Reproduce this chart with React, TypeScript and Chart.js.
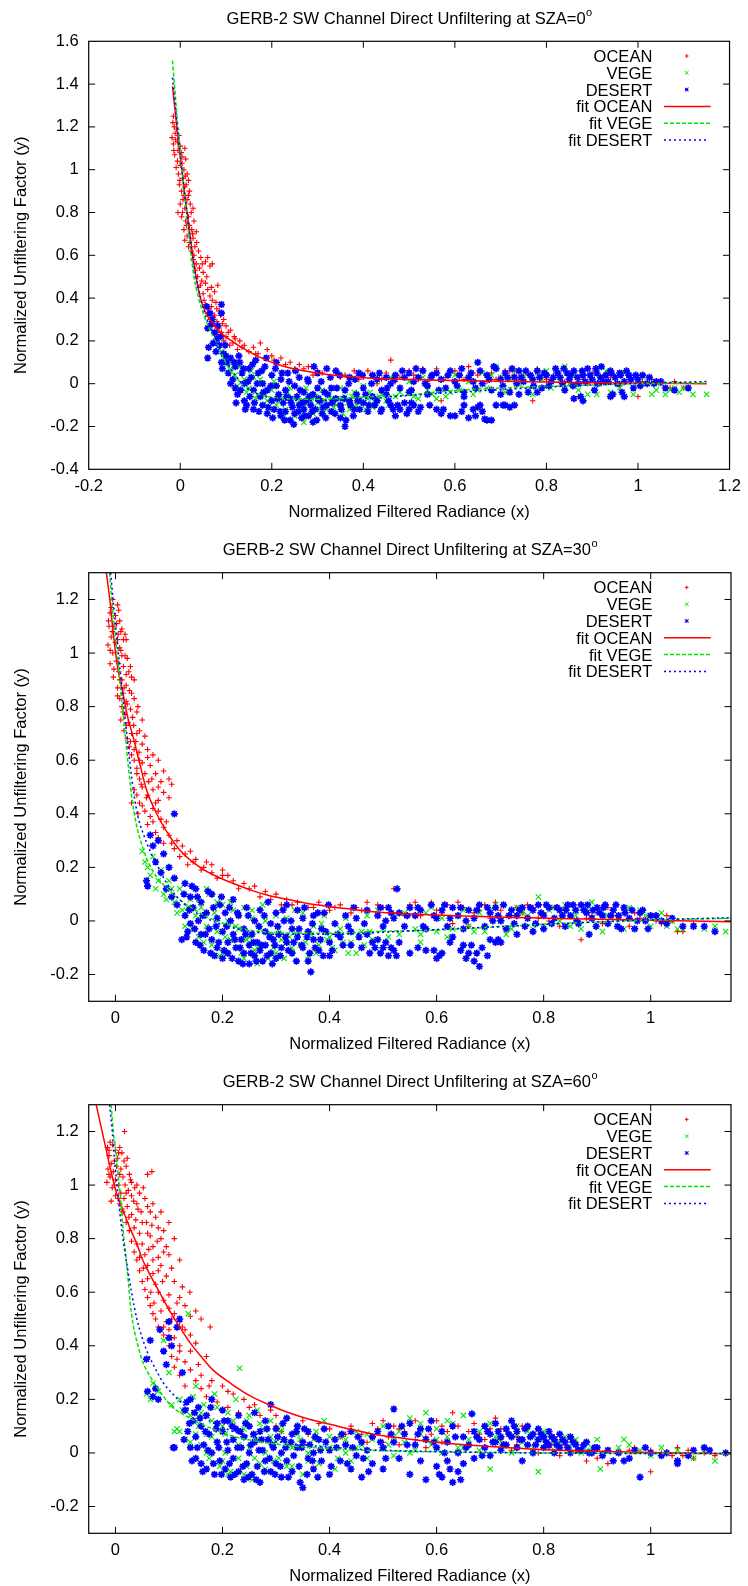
import React, { useEffect, useRef } from 'react';
import { Chart, registerables } from 'chart.js';

Chart.register(...registerables);

type P = [number, number];

// ---------- text ----------
const titles = [
  'GERB-2 SW Channel Direct Unfiltering at SZA=0',
  'GERB-2 SW Channel Direct Unfiltering at SZA=30',
  'GERB-2 SW Channel Direct Unfiltering at SZA=60',
];
const titleSup = 'o';
const xTitle = 'Normalized Filtered Radiance (x)';
const yTitle = 'Normalized Unfiltering Factor (y)';
const legendLabels = ['OCEAN', 'VEGE', 'DESERT', 'fit OCEAN', 'fit VEGE', 'fit DESERT'];

// ---------- ticks ----------
const xTicks0 = [-0.2, 0, 0.2, 0.4, 0.6, 0.8, 1, 1.2];
const xTickLabels0 = ['-0.2', '0', '0.2', '0.4', '0.6', '0.8', '1', '1.2'];
const yTicks0 = [-0.4, -0.2, 0, 0.2, 0.4, 0.6, 0.8, 1, 1.2, 1.4, 1.6];
const yTickLabels0 = ['-0.4', '-0.2', '0', '0.2', '0.4', '0.6', '0.8', '1', '1.2', '1.4', '1.6'];
const xTicks12 = [0, 0.2, 0.4, 0.6, 0.8, 1];
const xTickLabels12 = ['0', '0.2', '0.4', '0.6', '0.8', '1'];
const yTicks12 = [-0.2, 0, 0.2, 0.4, 0.6, 0.8, 1, 1.2];
const yTickLabels12 = ['-0.2', '0', '0.2', '0.4', '0.6', '0.8', '1', '1.2'];

// ---------- SZA = 0 ----------
const ocean0: P[] = [
  [-0.015,1.25],[-0.013,1.2],[-0.008,1.19],[-0.018,1.15],[-0.01,1.14],[-0.003,1.16],[-0.015,1.12],[0.0,1.11],[-0.005,1.09],[0.01,1.1],
  [-0.012,1.07],[0.004,1.06],[-0.006,1.04],[0.012,1.05],[0.0,1.02],[0.008,1.0],[-0.004,0.98],[0.015,0.98],[0.005,0.96],[0.018,0.95],
  [-0.002,0.93],[0.01,0.92],[0.003,0.9],[0.02,0.9],[0.008,0.88],[0.015,0.86],[0.0,0.84],[0.022,0.84],[0.01,0.82],[0.028,0.82],
  [-0.005,0.8],[0.005,0.8],[0.018,0.78],[0.012,0.76],[0.03,0.76],[0.02,0.74],[0.008,0.72],[0.025,0.72],[0.035,0.71],[0.015,0.69],
  [0.028,0.68],[0.02,0.66],[0.032,0.64],[0.024,0.62],[0.04,0.62],[0.03,0.6],[0.045,0.59],[0.06,0.59],[0.055,0.57],[0.07,0.56],
  [0.035,0.56],[0.042,0.54],[0.05,0.52],[0.038,0.5],[0.047,0.48],[0.055,0.47],[0.04,0.45],[0.06,0.44],[0.05,0.42],[0.065,0.41],
  [0.075,0.43],[0.082,0.46],[0.07,0.39],[0.055,0.37],[0.068,0.36],[0.08,0.35],[0.06,0.33],[0.075,0.32],[0.088,0.32],[0.065,0.3],
  [0.08,0.29],[0.095,0.3],[0.07,0.27],[0.085,0.26],[0.1,0.27],[0.09,0.24],[0.11,0.25],[0.078,0.23],[0.1,0.22],[0.12,0.21],
  [0.115,0.19],[0.13,0.2],[0.14,0.18],[0.125,0.16],[0.16,0.17],[0.175,0.19],[0.19,0.16],[0.165,0.14],[0.2,0.13],[0.22,0.12],
  [0.21,0.1],[0.24,0.1],[0.26,0.09],[0.28,0.08],[0.25,0.07],[0.3,0.06],[0.32,0.07],[0.29,0.04],[0.34,0.05],[0.36,0.04],
  [0.38,0.06],[0.4,0.03],[0.42,0.04],[0.39,0.02],[0.44,0.02],[0.46,0.11],[0.45,0.05],[0.48,0.03],[0.5,0.06],[0.52,0.02],
  [0.53,0.07],[0.55,0.04],[0.57,-0.08],[0.58,0.03],[0.6,0.06],[0.62,0.02],[0.63,0.08],[0.65,0.04],[0.67,0.01],[0.68,0.05],
  [0.7,0.03],[0.72,0.06],[0.74,0.02],[0.77,-0.08],[0.76,0.04],[0.78,0.07],[0.8,0.02],[0.82,0.05],[0.84,0.01],[0.86,0.04],
  [0.87,-0.06],[0.88,0.02],[0.9,0.05],[0.92,0.0],[0.94,0.03],[0.96,-0.01],[0.98,0.02],[1.0,-0.06],[1.01,0.01],[1.03,0.02],
  [1.05,0.0],[1.07,-0.02],[1.08,0.01],[1.1,-0.02],
  [-0.016,1.22],[-0.011,1.17],[-0.006,1.13],[-0.014,1.09],[0.002,1.08],[-0.009,1.01],[0.004,1.03],[0.011,0.97],[-0.001,0.95],[0.013,0.93],
  [0.006,0.86],[0.018,0.88],[0.024,0.8],[0.003,0.78],[0.014,0.74],[0.027,0.7],[0.01,0.67],[0.036,0.66],[0.018,0.64],[0.028,0.58],
  [0.048,0.56],[0.065,0.55],[0.033,0.53],[0.058,0.5],[0.044,0.46],[0.068,0.45],[0.052,0.39],[0.078,0.38],[0.062,0.35],[0.085,0.34],
  [0.072,0.31],[0.092,0.28],[0.082,0.24],[0.105,0.24],[0.095,0.2],[0.118,0.22],[0.108,0.18],[0.135,0.17],[0.15,0.15],[0.17,0.14],
  [0.185,0.12],[0.205,0.11],[0.23,0.09],[0.27,0.07],[0.31,0.05],[0.35,0.03],[0.37,0.02],[0.41,0.06],[0.43,0.0],[0.47,0.01],
  [0.51,0.04],[0.54,0.01],[0.56,0.07],[0.61,0.03],[0.64,0.05],[0.69,0.02],[0.71,0.06],[0.73,0.04],[0.79,0.04],[0.83,0.03],
  [0.89,0.0],[0.93,0.04],[0.97,0.01],
];
const vege0: P[] = [
  [0.09,0.15],[0.1,0.1],[0.11,0.07],[0.12,0.04],[0.13,0.08],[0.14,0.02],[0.15,-0.02],[0.16,0.03],[0.17,-0.05],[0.18,0.0],
  [0.19,-0.08],[0.2,-0.03],[0.21,-0.1],[0.22,-0.06],[0.23,-0.12],[0.24,-0.02],[0.25,-0.15],[0.26,-0.08],[0.27,-0.18],[0.27,-0.11],
  [0.28,-0.05],[0.29,-0.14],[0.3,-0.09],[0.31,-0.03],[0.32,-0.12],[0.33,-0.07],[0.34,-0.1],[0.35,-0.02],[0.36,-0.06],[0.37,-0.12],
  [0.38,-0.04],[0.39,-0.09],[0.4,-0.01],[0.41,-0.07],[0.42,-0.11],[0.43,0.02],[0.44,-0.05],[0.45,-0.08],[0.46,0.03],[0.48,-0.04],
  [0.5,0.01],[0.51,-0.06],[0.53,0.03],[0.55,-0.05],[0.57,0.02],[0.58,-0.06],[0.6,0.04],[0.61,-0.03],[0.63,0.01],[0.64,-0.05],
  [0.66,0.05],[0.67,-0.02],[0.69,0.08],[0.7,0.03],[0.71,-0.04],[0.73,0.06],[0.74,0.0],[0.76,-0.03],[0.78,0.05],[0.79,0.02],
  [0.81,-0.02],[0.82,0.06],[0.84,0.08],[0.85,0.0],[0.87,-0.03],[0.88,0.05],[0.9,0.02],[0.91,-0.05],[0.93,0.06],[0.95,0.03],
  [0.96,-0.02],[0.98,0.04],[1.0,0.01],[1.02,0.03],[1.03,-0.05],[1.05,0.0],[1.07,-0.03],[1.09,-0.04],[1.1,-0.02],[1.12,-0.05],
  [1.15,-0.05],
  [0.095,0.12],[0.105,0.05],[0.115,0.1],[0.125,-0.01],[0.135,0.05],[0.145,-0.04],[0.155,0.06],[0.165,-0.07],[0.175,0.02],[0.185,-0.05],
  [0.195,-0.12],[0.205,0.01],[0.215,-0.08],[0.225,-0.14],[0.235,-0.04],[0.245,-0.1],[0.255,-0.06],[0.265,-0.13],[0.275,-0.02],[0.285,-0.09],
  [0.295,-0.06],[0.305,-0.12],[0.315,-0.08],[0.325,-0.05],[0.335,-0.11],[0.345,-0.07],[0.355,-0.14],[0.365,-0.09],[0.375,-0.06],[0.385,-0.1],
  [0.395,-0.07],[0.405,-0.12],[0.415,-0.04],[0.425,-0.08],[0.435,-0.06],[0.455,-0.1],[0.47,-0.06],[0.49,-0.09],[0.52,-0.07],[0.54,-0.03],
  [0.56,-0.07],[0.59,-0.04],[0.62,-0.06],[0.65,-0.03],[0.68,0.04],[0.72,0.02],[0.75,0.04],[0.77,-0.05],[0.8,0.06],[0.83,0.02],
  [0.86,0.04],[0.89,-0.05],[0.92,0.03],[0.94,-0.04],[0.97,0.05],[0.99,-0.05],[1.01,0.0],[1.04,-0.03],[1.06,-0.05],[1.08,-0.02],
];
const desert0: P[] = [
  [0.058,0.36],[0.065,0.33],[0.07,0.3],[0.06,0.26],[0.075,0.24],[0.08,0.21],[0.062,0.17],[0.085,0.18],[0.06,0.12],[0.095,0.14],
  [0.09,0.1],[0.1,0.13],[0.09,0.37],[0.09,0.33],
  [0.068,0.28],[0.072,0.19],[0.078,0.15],[0.082,0.27],[0.088,0.22],[0.092,0.07],[0.098,0.18],[0.102,0.1],
  [0.11,0.12],[0.12,0.08],[0.115,0.02],[0.12,-0.02],[0.125,-0.05],[0.13,0.1],[0.135,0.05],[0.14,0.0],[0.14,-0.08],[0.145,-0.1],
  [0.15,0.07],[0.155,0.03],[0.16,-0.03],[0.16,-0.12],[0.165,0.11],[0.17,0.05],[0.175,-0.06],[0.18,-0.1],[0.18,0.0],[0.185,0.08],
  [0.19,-0.14],[0.19,-0.03],[0.2,0.04],[0.2,-0.08],[0.205,-0.12],[0.21,-0.01],[0.21,0.1],[0.215,-0.05],[0.22,-0.15],[0.22,0.02],
  [0.225,-0.09],[0.23,-0.03],[0.23,-0.13],[0.235,0.05],[0.24,-0.07],[0.24,-0.17],[0.245,-0.11],[0.25,-0.01],[0.25,-0.14],[0.255,-0.06],
  [0.26,-0.1],[0.26,0.03],[0.265,-0.16],[0.27,-0.04],[0.27,-0.12],[0.275,-0.08],[0.28,0.01],[0.28,-0.15],[0.285,-0.1],[0.29,-0.05],
  [0.29,-0.18],[0.295,-0.12],[0.3,0.05],[0.3,-0.02],[0.305,-0.08],[0.31,-0.14],[0.315,-0.04],[0.32,0.07],[0.32,-0.1],[0.33,-0.02],
  [0.33,-0.13],[0.34,0.06],[0.34,-0.07],[0.35,-0.1],[0.35,-0.16],[0.36,-0.03],[0.36,-0.2],[0.37,0.03],[0.37,-0.08],[0.38,-0.12],
  [0.385,-0.05],[0.39,0.05],[0.4,-0.09],[0.4,-0.02],[0.41,-0.13],[0.42,0.04],[0.42,-0.06],
  [0.105,0.05],[0.11,0.0],[0.118,0.1],[0.122,-0.09],[0.128,0.13],[0.132,-0.03],[0.138,0.07],[0.142,-0.12],[0.148,0.01],[0.152,-0.06],
  [0.158,0.09],[0.162,-0.09],[0.168,0.0],[0.172,-0.13],[0.178,0.06],[0.182,-0.04],[0.188,0.12],[0.192,-0.11],[0.198,-0.01],[0.202,-0.16],
  [0.208,0.07],[0.212,-0.07],[0.218,-0.13],[0.222,0.05],[0.228,-0.17],[0.232,-0.06],[0.238,0.01],[0.242,-0.09],[0.248,-0.19],[0.252,0.06],
  [0.258,-0.13],[0.262,-0.03],[0.268,-0.09],[0.272,-0.15],[0.278,0.02],[0.282,-0.06],[0.288,-0.13],[0.292,0.08],[0.298,-0.17],[0.302,-0.07],
  [0.308,0.01],[0.312,-0.11],[0.318,-0.16],[0.322,-0.05],[0.328,0.03],[0.332,-0.09],[0.338,-0.14],[0.342,-0.02],[0.348,0.04],[0.352,-0.12],
  [0.358,-0.07],[0.362,-0.17],[0.368,0.0],[0.372,-0.1],[0.378,-0.15],[0.382,0.02],[0.388,-0.08],[0.392,-0.12],[0.398,0.04],[0.405,-0.05],
  [0.412,-0.1],[0.418,0.0],
  [0.43,0.02],[0.44,-0.03],[0.45,0.03],[0.46,0.0],[0.47,0.04],[0.48,-0.02],[0.49,0.03],[0.5,0.05],[0.51,0.01],[0.52,0.03],
  [0.53,0.06],[0.54,-0.01],[0.55,0.04],[0.56,0.05],[0.57,0.02],[0.58,-0.02],[0.59,0.06],[0.6,0.01],[0.61,0.04],[0.62,-0.04],
  [0.63,0.03],[0.64,0.01],[0.65,0.1],[0.655,0.06],[0.66,0.0],[0.67,0.04],[0.68,-0.03],[0.69,0.07],[0.7,0.02],[0.71,0.05],
  [0.72,-0.04],[0.73,0.03],[0.74,0.06],[0.75,0.01],[0.76,-0.04],[0.765,0.04],[0.77,0.02],[0.78,0.06],[0.79,-0.02],[0.8,0.04],
  [0.81,0.01],[0.82,0.07],[0.83,0.03],[0.84,-0.03],[0.845,0.05],[0.85,0.02],[0.86,0.06],[0.87,0.0],[0.875,-0.06],[0.88,0.04],
  [0.89,0.07],[0.9,0.02],[0.905,-0.03],[0.91,0.05],[0.92,0.08],[0.925,0.01],[0.93,0.04],[0.94,0.06],[0.945,-0.05],[0.95,0.03],
  [0.96,0.05],[0.965,-0.04],[0.97,0.01],[0.98,0.04],[0.99,-0.02],[1.0,0.02],[1.01,0.04],[1.02,0.0],[1.04,0.01],[1.06,-0.02],
  [1.08,-0.03],[1.11,-0.02],
  [0.435,0.05],[0.452,-0.02],[0.468,0.02],[0.485,0.06],[0.505,-0.03],[0.515,0.07],[0.535,0.0],[0.548,0.03],[0.565,-0.03],[0.585,0.04],
  [0.605,-0.01],[0.615,0.07],[0.635,0.05],[0.645,-0.02],[0.675,0.02],[0.685,0.08],[0.705,-0.01],[0.715,0.03],[0.725,0.07],[0.735,0.0],
  [0.745,0.03],[0.755,0.06],[0.772,-0.01],[0.785,0.03],[0.795,0.05],[0.805,-0.01],[0.815,0.03],[0.825,0.05],[0.835,0.0],[0.838,0.07],
  [0.852,0.04],[0.858,-0.01],[0.868,0.03],[0.878,0.06],[0.885,0.01],[0.895,0.04],[0.908,0.07],[0.912,0.0],[0.918,0.03],[0.935,0.01],
  [0.942,0.05],[0.955,0.0],[0.962,0.04],[0.975,0.06],[0.985,0.02],[0.995,0.04],[1.005,-0.01],[1.025,0.03],[1.035,0.0],[1.05,0.01],
  [0.43,-0.08],[0.44,-0.12],[0.46,-0.1],[0.47,-0.15],[0.48,-0.12],[0.49,-0.09],[0.5,-0.12],[0.51,-0.1],[0.52,-0.13],[0.56,-0.12],
  [0.57,-0.14],[0.59,-0.15],[0.6,-0.15],[0.62,-0.1],[0.63,-0.16],[0.64,-0.12],[0.65,-0.11],[0.66,-0.13],[0.67,-0.17],[0.68,-0.17],
  [0.69,-0.1],[0.71,-0.1],[0.73,-0.1],
  [0.425,-0.1],[0.438,-0.13],[0.455,-0.08],[0.465,-0.12],[0.475,-0.1],[0.495,-0.14],[0.505,-0.09],[0.525,-0.11],[0.545,-0.1],[0.575,-0.12],
  [0.615,-0.13],[0.645,-0.15],[0.655,-0.1],[0.665,-0.165],[0.705,-0.1],[0.72,-0.11],
  [0.45,-0.05],[0.5,-0.04],[0.54,-0.05],[0.62,-0.06],[0.7,-0.05],[0.74,-0.05],[0.78,-0.04],[0.86,-0.07],[0.88,-0.08],[0.94,-0.06],
  [0.97,-0.06],
];
const fitOcean0: P[] = [
  [-0.017,1.39],[-0.01,1.25],[-0.005,1.15],[0.003,1.01],[0.01,0.88],[0.021,0.7],[0.03,0.56],[0.037,0.47],[0.043,0.41],[0.05,0.36],
  [0.06,0.315],[0.075,0.27],[0.09,0.235],[0.115,0.196],[0.15,0.15],[0.188,0.11],[0.22,0.085],[0.26,0.064],[0.3,0.05],[0.333,0.04],
  [0.42,0.026],[0.5,0.02],[0.6,0.015],[0.7,0.011],[0.8,0.008],[0.9,0.005],[1.0,0.003],[1.15,0.0],
];
const fitVege0: P[] = [
  [-0.017,1.51],[-0.012,1.38],[-0.006,1.22],[0.0,1.08],[0.006,0.95],[0.012,0.83],[0.018,0.71],[0.025,0.58],[0.03,0.5],[0.04,0.4],
  [0.05,0.33],[0.065,0.25],[0.08,0.19],[0.095,0.12],[0.108,0.064],[0.13,0.01],[0.152,-0.03],[0.18,-0.055],[0.21,-0.067],[0.26,-0.072],
  [0.3,-0.073],[0.35,-0.07],[0.42,-0.06],[0.49,-0.055],[0.57,-0.037],[0.68,-0.022],[0.785,-0.014],[0.9,-0.006],[1.0,0.0],[1.15,0.004],
];
const fitDesert0: P[] = [
  [-0.017,1.43],[-0.01,1.28],[-0.004,1.15],[0.002,1.03],[0.008,0.92],[0.015,0.79],[0.022,0.67],[0.03,0.55],[0.038,0.46],[0.048,0.37],
  [0.06,0.29],[0.075,0.22],[0.09,0.15],[0.105,0.09],[0.12,0.04],[0.14,-0.01],[0.16,-0.04],[0.19,-0.062],[0.23,-0.075],[0.28,-0.08],
  [0.33,-0.078],[0.4,-0.07],[0.5,-0.055],[0.6,-0.04],[0.7,-0.028],[0.8,-0.016],[0.9,-0.006],[1.0,0.002],[1.15,0.01],
];

// ---------- SZA = 30 ----------
const ocean30: P[] = [
  [-0.005,1.2],[0.004,1.18],[-0.01,1.15],[0.0,1.14],[0.008,1.12],[-0.012,1.1],[-0.003,1.1],[0.012,1.09],[0.005,1.07],[-0.008,1.06],
  [0.015,1.05],[0.0,1.04],[-0.014,1.03],[0.02,1.05],[0.008,1.02],[-0.005,1.0],[0.012,0.99],[0.002,0.97],[0.022,0.98],[-0.01,0.96],
  [0.015,0.95],[0.006,0.93],[0.025,0.93],[-0.004,0.91],[0.012,0.9],[0.03,0.91],[0.02,0.88],[0.004,0.87],[0.014,0.85],[0.026,0.86],
  [0.008,0.83],[0.02,0.82],[0.035,0.83],[0.012,0.8],[0.028,0.79],[0.018,0.77],[0.04,0.78],[0.01,0.75],[0.024,0.74],[0.034,0.73],
  [0.016,0.71],[0.03,0.7],[0.045,0.71],[0.022,0.68],[0.038,0.67],[0.026,0.65],[0.05,0.66],[0.03,0.62],[0.044,0.63],[0.06,0.64],
  [0.07,0.62],[0.035,0.6],[0.05,0.59],[0.065,0.58],[0.08,0.6],[0.04,0.57],[0.055,0.55],[0.075,0.55],[0.09,0.56],[0.045,0.53],
  [0.062,0.52],[0.085,0.52],[0.1,0.53],[0.105,0.51],[0.05,0.5],[0.07,0.49],[0.09,0.48],[0.04,0.47],[0.058,0.46],[0.08,0.45],
  [0.03,0.44],[0.05,0.43],[0.07,0.42],[0.1,0.46],[0.042,0.4],[0.065,0.39],[0.085,0.38],[0.06,0.36],[0.09,0.35],[0.075,0.33],
  [0.1,0.32],[0.115,0.3],[0.09,0.29],[0.11,0.27],[0.125,0.28],[0.14,0.26],[0.12,0.24],[0.15,0.23],[0.135,0.21],[0.17,0.22],
  [0.16,0.19],[0.18,0.18],[0.2,0.19],[0.19,0.16],[0.21,0.17],[0.22,0.15],[0.24,0.14],[0.23,0.12],[0.26,0.13],[0.28,0.11],
  [0.27,0.09],[0.3,0.1],[0.32,0.08],[0.31,0.06],[0.34,0.07],[0.36,0.05],[0.38,0.07],[0.4,0.04],[0.42,0.06],[0.44,0.03],
  [0.46,0.04],[0.47,0.07],
  [0.5,0.05],[0.52,0.12],[0.53,0.03],[0.55,0.06],[0.57,0.02],[0.59,0.07],[0.6,0.04],[0.62,0.06],[0.63,-0.01],[0.65,0.05],
  [0.67,0.03],[0.69,0.06],[0.7,0.01],[0.72,0.04],[0.74,0.02],[0.75,0.05],[0.77,0.06],[0.79,0.01],[0.8,0.03],[0.82,0.05],
  [0.83,-0.02],[0.85,0.02],[0.86,0.04],[0.87,-0.07],[0.88,0.01],[0.9,0.03],[0.91,-0.01],[0.93,0.02],[0.95,0.04],[0.96,-0.02],
  [0.98,0.01],[1.0,0.02],[1.02,-0.01],[1.04,0.0],[1.05,-0.04],[1.06,-0.04],[1.08,-0.01],[0.58,-0.03],[0.66,-0.02],[0.73,-0.03],
  [-0.008,1.17],[0.006,1.16],[-0.013,1.12],[0.002,1.11],[0.01,1.08],[-0.006,1.08],[0.018,1.07],[0.004,1.05],[-0.01,1.01],[0.01,1.01],
  [0.018,0.99],[0.006,0.96],[0.028,0.95],[-0.003,0.94],[0.02,0.92],[0.008,0.9],[0.035,0.9],[0.016,0.87],[0.03,0.85],[0.004,0.84],
  [0.022,0.81],[0.042,0.8],[0.014,0.78],[0.032,0.76],[0.05,0.75],[0.02,0.73],[0.04,0.7],[0.028,0.67],[0.055,0.69],[0.035,0.64],
  [0.045,0.6],[0.06,0.61],[0.04,0.55],[0.068,0.53],[0.048,0.51],[0.08,0.5],[0.035,0.49],[0.06,0.47],[0.045,0.44],[0.075,0.44],
  [0.055,0.41],[0.08,0.41],[0.07,0.37],[0.095,0.37],[0.08,0.31],[0.105,0.29],[0.13,0.25],[0.145,0.22],[0.165,0.2],[0.18,0.21],
  [0.2,0.17],[0.25,0.12],[0.29,0.08],[0.33,0.06],[0.37,0.05],[0.41,0.05],[0.45,0.05],[0.49,0.06],[0.54,0.02],[0.56,0.07],
  [0.61,0.03],[0.64,0.07],[0.68,0.04],[0.71,0.07],[0.76,0.03],[0.78,0.05],[0.81,0.0],[0.84,0.05],[0.89,0.02],[0.92,0.05],
  [0.94,0.01],[0.97,0.03],[1.01,0.0],[1.03,0.02],
];
const vege30: P[] = [
  [0.05,0.26],[0.06,0.2],[0.07,0.24],[0.08,0.15],[0.09,0.1],[0.1,0.15],[0.11,0.07],[0.12,0.12],[0.125,0.04],[0.13,-0.02],
  [0.14,0.08],[0.15,0.02],[0.155,-0.06],[0.16,0.05],[0.17,-0.02],[0.175,0.1],[0.18,-0.09],[0.185,0.03],[0.19,-0.04],[0.2,0.06],
  [0.2,-0.12],[0.21,0.0],[0.215,-0.07],[0.22,0.04],[0.225,-0.1],[0.23,-0.03],[0.24,0.05],[0.24,-0.14],[0.25,-0.06],[0.255,0.01],
  [0.26,-0.11],[0.265,-0.16],[0.27,-0.03],[0.275,0.06],[0.28,-0.09],[0.285,-0.14],[0.29,-0.05],[0.3,0.02],[0.3,-0.12],[0.31,-0.07],
  [0.32,0.01],[0.33,-0.1],[0.34,-0.04],[0.35,0.03],[0.355,-0.08],[0.36,-0.13],[0.37,-0.02],[0.38,-0.09],[0.39,0.02],[0.4,-0.06],
  [0.41,-0.11],[0.42,-0.03],[0.43,0.01],[0.44,-0.08],[0.45,-0.12],[0.46,-0.04],[0.47,0.02],[0.48,-0.07],
  [0.49,0.04],[0.5,-0.03],[0.52,0.02],[0.53,-0.05],[0.55,0.05],[0.56,-0.03],[0.57,-0.08],[0.58,0.03],[0.6,-0.04],[0.61,0.01],
  [0.63,-0.03],[0.65,0.04],[0.66,-0.02],[0.68,0.03],[0.69,-0.04],[0.71,0.06],[0.72,0.0],[0.74,-0.03],[0.75,0.05],[0.77,0.02],
  [0.79,0.09],[0.8,-0.02],[0.81,0.04],[0.83,0.0],[0.84,0.06],[0.86,0.02],[0.87,-0.03],[0.89,0.07],[0.9,0.03],[0.91,-0.04],
  [0.93,0.04],[0.94,0.01],[0.96,0.05],[0.97,-0.03],[0.99,0.02],[1.0,-0.02],[1.02,0.03],[1.04,0.0],[1.06,-0.03],[1.08,-0.02],
  [1.1,-0.03],[1.12,-0.02],[1.14,-0.04],
  [0.055,0.22],[0.065,0.17],[0.075,0.12],[0.085,0.19],[0.095,0.08],[0.105,0.12],[0.115,0.03],[0.135,0.05],[0.145,-0.03],[0.155,0.08],
  [0.165,-0.08],[0.17,0.12],[0.19,0.07],[0.195,-0.13],[0.205,-0.06],[0.215,0.07],[0.225,-0.02],[0.235,-0.12],[0.245,-0.07],[0.255,0.04],
  [0.265,-0.1],[0.27,-0.15],[0.28,0.0],[0.295,-0.1],[0.305,-0.03],[0.315,-0.14],[0.325,-0.06],[0.335,0.04],[0.345,-0.09],[0.365,-0.05],
  [0.375,-0.12],[0.385,-0.01],[0.395,-0.07],[0.405,-0.1],[0.415,-0.05],[0.425,-0.08],[0.435,-0.12],[0.455,-0.06],[0.465,-0.09],[0.475,-0.04],
  [0.51,-0.06],[0.54,0.03],[0.57,-0.05],[0.59,0.05],[0.62,-0.06],[0.64,0.02],[0.67,-0.04],[0.7,0.04],[0.73,-0.05],[0.76,0.03],
  [0.78,-0.03],[0.82,0.05],[0.85,-0.02],[0.88,0.04],[0.92,0.02],[0.95,-0.03],[0.98,0.04],[1.01,0.01],[1.03,-0.02],[1.05,-0.03],
];
const desert30: P[] = [
  [0.058,0.15],[0.06,0.13],[0.065,0.32],[0.07,0.28],[0.075,0.22],[0.08,0.3],[0.085,0.18],[0.09,0.25],[0.095,0.12],[0.1,0.2],
  [0.105,0.09],[0.11,0.4],[0.11,0.16],[0.115,0.06],[0.124,-0.07],
  [0.13,0.14],[0.13,0.02],[0.135,-0.04],[0.14,0.09],[0.14,-0.01],[0.145,0.05],[0.15,-0.08],[0.15,0.12],[0.155,0.0],[0.16,-0.05],
  [0.16,0.07],[0.165,-0.11],[0.17,0.03],[0.175,-0.03],[0.18,0.1],[0.18,-0.07],[0.185,-0.13],[0.19,0.01],[0.19,-0.1],[0.195,0.06],
  [0.2,-0.04],[0.2,-0.14],[0.205,0.03],[0.21,-0.08],[0.21,-0.12],[0.215,0.0],[0.22,0.08],[0.22,-0.05],[0.225,-0.1],[0.23,-0.15],
  [0.23,0.02],[0.235,-0.07],[0.24,-0.03],[0.24,-0.12],[0.245,0.05],[0.25,-0.09],[0.25,-0.16],[0.255,-0.05],[0.26,-0.13],[0.26,0.0],
  [0.265,-0.08],[0.27,-0.11],[0.27,0.04],[0.275,-0.15],[0.28,-0.04],[0.28,-0.09],[0.285,0.07],[0.29,-0.12],[0.29,-0.01],[0.295,-0.07],
  [0.3,0.03],[0.3,-0.14],[0.305,-0.05],[0.31,-0.1],[0.315,0.0],[0.32,0.06],[0.32,-0.08],[0.33,-0.12],[0.33,-0.03],[0.34,0.04],
  [0.34,-0.06],[0.35,-0.1],[0.35,0.01],[0.36,-0.04],[0.36,-0.15],[0.365,-0.19],[0.37,-0.07],[0.37,0.02],[0.38,-0.11],[0.385,-0.03],
  [0.39,0.03],[0.4,-0.08],[0.4,-0.13],[0.41,-0.01],[0.42,-0.06],[0.43,0.02],[0.44,-0.09],[0.44,-0.04],[0.45,0.01],[0.46,-0.1],
  [0.47,-0.05],[0.47,0.04],[0.48,-0.08],
  [0.128,0.1],[0.133,-0.06],[0.138,0.04],[0.143,0.13],[0.148,-0.03],[0.153,0.09],[0.158,-0.09],[0.163,0.02],[0.168,-0.05],[0.173,0.11],
  [0.178,-0.12],[0.183,0.05],[0.188,-0.02],[0.193,-0.08],[0.198,0.09],[0.203,-0.11],[0.208,-0.02],[0.213,0.05],[0.218,-0.14],[0.223,-0.07],
  [0.228,0.03],[0.233,-0.1],[0.238,-0.16],[0.243,-0.05],[0.248,0.02],[0.253,-0.12],[0.258,-0.08],[0.263,-0.15],[0.268,-0.02],[0.273,-0.09],
  [0.278,0.02],[0.283,-0.13],[0.288,-0.06],[0.293,-0.16],[0.298,-0.09],[0.303,-0.02],[0.308,-0.13],[0.313,0.04],[0.318,-0.06],[0.323,-0.11],
  [0.328,0.0],[0.333,-0.08],[0.338,-0.15],[0.343,-0.03],[0.348,-0.09],[0.353,0.05],[0.358,-0.06],[0.363,-0.12],[0.368,-0.01],[0.373,-0.1],
  [0.378,0.03],[0.383,-0.07],[0.388,-0.13],[0.393,-0.04],[0.398,0.06],[0.405,-0.11],[0.415,-0.05],[0.425,-0.09],[0.435,-0.02],[0.445,0.05],
  [0.455,-0.06],[0.465,-0.01],[0.475,-0.12],
  [0.49,0.02],[0.5,-0.02],[0.51,0.05],[0.52,0.01],[0.526,0.12],[0.53,0.03],[0.54,-0.02],[0.55,0.05],[0.56,0.02],[0.57,0.04],
  [0.58,-0.03],[0.59,0.06],[0.6,0.01],[0.61,0.04],[0.62,-0.02],[0.63,0.05],[0.64,0.02],[0.65,-0.03],[0.66,0.04],[0.67,0.01],
  [0.68,0.06],[0.69,-0.02],[0.7,0.03],[0.71,0.05],[0.72,0.0],[0.73,-0.03],[0.74,0.04],[0.75,0.02],[0.76,0.05],[0.765,-0.02],
  [0.77,0.01],[0.78,0.04],[0.79,0.06],[0.8,-0.03],[0.8,0.02],[0.81,0.05],[0.82,0.01],[0.83,0.04],[0.84,-0.02],[0.845,0.06],
  [0.85,0.02],[0.86,0.04],[0.865,-0.01],[0.87,0.06],[0.88,0.03],[0.885,-0.05],[0.89,0.01],[0.9,0.05],[0.91,0.02],[0.915,0.06],
  [0.92,-0.01],[0.93,0.04],[0.94,0.02],[0.945,-0.03],[0.95,0.05],[0.96,0.01],[0.97,-0.03],[0.98,0.03],[0.99,0.0],[1.0,0.02],
  [1.02,0.0],[1.04,0.01],[1.06,-0.02],[1.08,-0.02],[1.1,-0.02],[1.12,-0.04],
  [0.495,0.05],[0.505,0.0],[0.515,0.03],[0.545,0.02],[0.565,0.05],[0.575,-0.02],[0.595,0.02],[0.615,0.06],[0.625,0.01],[0.645,0.05],
  [0.655,0.0],[0.675,0.04],[0.695,0.05],[0.705,0.0],[0.715,0.02],[0.725,0.06],[0.735,0.02],[0.745,-0.01],[0.755,0.04],[0.775,0.05],
  [0.785,-0.01],[0.795,0.03],[0.805,0.06],[0.815,-0.01],[0.825,0.05],[0.835,0.02],[0.842,0.04],[0.855,0.06],[0.862,0.0],[0.875,0.04],
  [0.882,0.06],[0.892,0.04],[0.898,-0.02],[0.905,0.03],[0.912,0.05],[0.925,0.02],[0.935,0.06],[0.938,-0.02],[0.952,0.03],[0.965,0.04],
  [0.975,0.0],[0.985,0.04],[0.995,-0.03],[1.01,0.02],[1.03,-0.01],
  [0.49,-0.07],[0.5,-0.1],[0.51,-0.13],[0.52,-0.11],[0.53,-0.08],[0.55,-0.12],[0.58,-0.11],[0.6,-0.14],[0.61,-0.12],[0.63,-0.06],
  [0.65,-0.09],[0.66,-0.12],[0.67,-0.15],[0.68,-0.17],[0.685,-0.1],[0.7,-0.07],[0.71,-0.08],[0.72,-0.08],[0.75,-0.05],[0.78,-0.04],
  [0.485,-0.1],[0.495,-0.12],[0.505,-0.08],[0.515,-0.1],[0.525,-0.13],[0.565,-0.1],[0.595,-0.11],[0.605,-0.13],[0.625,-0.08],[0.645,-0.11],
  [0.655,-0.14],[0.665,-0.09],[0.675,-0.12],[0.695,-0.13],[0.715,-0.07],
];
const fitOcean30: P[] = [
  [-0.017,1.3],[-0.01,1.19],[-0.005,1.09],[0.003,0.96],[0.014,0.85],[0.023,0.76],[0.033,0.687],[0.045,0.59],[0.058,0.49],[0.077,0.4],
  [0.1,0.32],[0.12,0.265],[0.158,0.2],[0.19,0.165],[0.22,0.14],[0.25,0.117],[0.283,0.097],[0.33,0.077],[0.375,0.06],[0.43,0.046],
  [0.482,0.034],[0.55,0.026],[0.65,0.018],[0.794,0.011],[0.9,0.006],[1.0,0.003],[1.15,-0.003],
];
const fitVege30: P[] = [
  [-0.011,1.3],[-0.006,1.18],[0.0,1.06],[0.006,0.94],[0.012,0.82],[0.018,0.7],[0.024,0.58],[0.03,0.47],[0.039,0.36],[0.05,0.28],
  [0.06,0.225],[0.077,0.165],[0.1,0.115],[0.12,0.08],[0.145,0.045],[0.17,0.016],[0.2,-0.008],[0.25,-0.034],[0.3,-0.044],[0.41,-0.046],
  [0.48,-0.04],[0.6,-0.034],[0.73,-0.02],[0.85,-0.008],[0.92,-0.003],[1.0,0.003],[1.15,0.01],
];
const fitDesert30: P[] = [
  [-0.009,1.3],[-0.003,1.17],[0.003,1.05],[0.009,0.93],[0.015,0.81],[0.021,0.7],[0.027,0.59],[0.034,0.48],[0.042,0.39],[0.053,0.32],
  [0.065,0.26],[0.08,0.2],[0.096,0.14],[0.115,0.09],[0.14,0.045],[0.17,0.01],[0.2,-0.015],[0.25,-0.038],[0.3,-0.05],[0.4,-0.05],
  [0.5,-0.042],[0.6,-0.032],[0.73,-0.02],[0.85,-0.008],[1.0,0.004],[1.15,0.012],
];

// ---------- SZA = 60 ----------
const ocean60: P[] = [
  [0.017,1.2],[-0.01,1.16],[-0.015,1.14],[-0.005,1.15],[0.0,1.13],[0.008,1.14],[-0.012,1.11],[0.004,1.1],[0.012,1.12],[-0.008,1.08],
  [0.002,1.07],[0.016,1.09],[-0.014,1.06],[-0.004,1.05],[0.01,1.06],[0.02,1.07],[0.068,1.05],[0.06,1.04],[-0.01,1.03],[0.0,1.02],
  [0.014,1.03],[0.026,1.04],[-0.016,1.01],[0.006,1.0],[0.018,1.0],[0.03,1.01],[-0.006,0.99],[0.01,0.97],[0.024,0.98],[0.036,0.99],
  [0.0,0.96],[0.016,0.95],[0.03,0.96],[0.045,0.97],[-0.008,0.94],[0.008,0.93],[0.022,0.92],[0.04,0.93],[0.055,0.95],[0.06,0.92],
  [0.014,0.9],[0.03,0.89],[0.048,0.9],[0.065,0.9],[0.075,0.88],[0.02,0.86],[0.038,0.87],[0.058,0.86],[0.08,0.84],[0.09,0.83],
  [0.026,0.83],[0.045,0.82],[0.065,0.81],[0.085,0.8],[0.03,0.79],[0.05,0.78],[0.07,0.77],[0.095,0.77],[0.035,0.75],[0.055,0.74],
  [0.08,0.73],[0.1,0.74],[0.04,0.72],[0.06,0.7],[0.085,0.7],[0.045,0.68],[0.07,0.67],[0.095,0.66],[0.05,0.64],[0.075,0.63],
  [0.11,0.64],[0.055,0.61],[0.08,0.6],[0.139,0.6],[0.06,0.58],[0.09,0.57],[0.12,0.58],[0.065,0.55],[0.1,0.54],[0.13,0.55],
  [0.07,0.52],[0.11,0.52],[0.15,0.53],[0.075,0.5],[0.095,0.49],[0.12,0.49],[0.16,0.5],[0.177,0.47],[0.08,0.47],[0.1,0.46],
  [0.13,0.46],[0.09,0.44],[0.11,0.43],[0.14,0.44],[0.1,0.4],[0.12,0.38],[0.15,0.41],[0.105,0.36],[0.13,0.34],[0.17,0.36],
  [0.11,0.32],[0.14,0.31],[0.12,0.29],[0.15,0.27],[0.13,0.25],[0.16,0.24],[0.18,0.27],[0.2,0.25],[0.17,0.21],[0.19,0.19],
  [0.22,0.22],[0.21,0.17],[0.24,0.2],[0.23,0.15],[0.25,0.17],[0.27,0.14],[0.29,0.16],[0.28,0.12],[0.3,0.1],[0.32,0.13],
  [0.31,0.08],[0.34,0.1],[0.36,0.07],[0.38,0.11],[0.4,0.09],[0.42,0.06],[0.44,0.1],[0.46,0.07],[0.47,0.04],
  [0.49,0.09],[0.5,0.12],[0.51,0.06],[0.52,0.1],[0.53,0.03],[0.54,0.08],[0.55,0.11],[0.56,0.05],[0.57,0.09],[0.58,0.02],
  [0.59,0.07],[0.6,0.12],[0.61,0.04],[0.62,0.08],[0.63,0.15],[0.64,0.1],[0.65,0.06],[0.66,0.03],[0.67,0.11],[0.68,0.07],
  [0.69,0.02],[0.7,0.09],[0.71,0.13],[0.72,0.05],[0.73,0.08],[0.74,0.01],[0.75,0.06],[0.76,0.1],[0.77,0.03],[0.78,0.07],
  [0.79,0.0],[0.8,0.05],[0.81,0.02],[0.82,0.06],[0.83,-0.01],[0.84,0.03],[0.85,0.05],[0.86,0.01],[0.87,0.02],[0.88,-0.03],
  [0.9,-0.02],[0.92,-0.04],[0.94,0.0],[0.97,0.02],[1.0,-0.07],[1.0,0.01],[1.02,0.0],[1.04,-0.01],[1.05,0.02],[1.07,0.01],
  [1.08,-0.02],[1.12,-0.01],
  [-0.012,1.13],[0.006,1.12],[-0.002,1.09],[0.022,1.1],[-0.012,1.04],[0.008,1.04],[0.028,1.02],[0.04,1.0],[-0.002,1.0],[0.02,0.97],
  [0.052,0.99],[0.005,0.95],[0.034,0.94],[0.07,0.93],[0.012,0.91],[0.042,0.91],[0.085,0.9],[0.025,0.88],[0.05,0.86],[0.068,0.85],
  [0.1,0.86],[0.035,0.84],[0.06,0.82],[0.078,0.79],[0.11,0.8],[0.04,0.78],[0.062,0.76],[0.09,0.75],[0.045,0.73],[0.07,0.72],
  [0.12,0.72],[0.052,0.69],[0.08,0.68],[0.105,0.69],[0.06,0.65],[0.088,0.64],[0.125,0.62],[0.066,0.6],[0.1,0.59],[0.072,0.56],
  [0.115,0.56],[0.14,0.51],[0.085,0.53],[0.105,0.5],[0.09,0.47],[0.125,0.47],[0.105,0.43],[0.12,0.4],[0.14,0.38],[0.115,0.35],
  [0.155,0.33],[0.125,0.3],[0.16,0.29],[0.175,0.25],[0.21,0.23],[0.26,0.18],[0.3,0.14],[0.35,0.12],[0.39,0.09],[0.43,0.07],
  [0.48,0.11],[0.5,0.04],[0.53,0.09],[0.56,0.12],[0.58,0.06],[0.61,0.1],[0.66,0.08],[0.69,0.05],[0.72,0.09],[0.75,0.03],
  [0.79,0.05],[0.82,0.03],[0.86,0.04],[0.91,0.0],[0.96,0.01],[1.06,-0.01],[1.1,0.0],
];
const vege60: P[] = [
  [0.058,0.22],[0.07,0.26],[0.09,0.42],[0.1,0.3],[0.11,0.08],[0.115,0.09],[0.12,0.2],[0.13,0.05],[0.136,0.52],[0.14,0.14],
  [0.15,0.25],[0.155,0.1],[0.16,0.03],[0.165,0.18],[0.17,0.07],[0.175,-0.02],[0.18,0.12],[0.185,0.22],[0.19,0.04],[0.195,-0.05],
  [0.2,0.1],[0.205,0.0],[0.21,0.15],[0.215,-0.07],[0.22,0.05],[0.225,0.2],[0.23,-0.02],[0.232,0.316],[0.235,0.08],[0.24,-0.08],
  [0.245,0.12],[0.25,0.02],[0.255,-0.1],[0.26,0.06],[0.265,0.16],[0.27,-0.04],[0.275,0.09],[0.28,0.0],[0.285,-0.07],[0.29,0.12],
  [0.3,0.04],[0.305,-0.02],[0.31,0.08],[0.32,-0.05],[0.33,0.02],[0.34,0.07],[0.35,-0.08],[0.36,0.0],[0.37,0.05],[0.38,-0.04],
  [0.39,0.12],[0.4,0.02],[0.41,-0.06],[0.42,0.06],[0.43,0.0],[0.44,-0.03],[0.45,0.08],[0.46,0.03],[0.47,-0.02],[0.48,0.05],
  [0.5,0.1],[0.51,0.03],[0.52,-0.01],[0.53,0.08],[0.54,0.04],[0.55,0.13],[0.56,0.01],[0.57,0.07],[0.58,0.15],[0.59,0.03],
  [0.6,0.09],[0.61,0.0],[0.62,0.06],[0.63,0.11],[0.64,0.02],[0.65,0.14],[0.66,0.05],[0.67,0.08],[0.68,0.01],[0.69,0.1],
  [0.7,-0.06],[0.71,0.06],[0.72,0.03],[0.73,0.09],[0.74,0.0],[0.75,0.07],[0.76,0.04],[0.77,0.08],[0.78,0.02],[0.79,-0.07],
  [0.8,0.05],[0.81,0.07],[0.82,0.01],[0.83,0.04],[0.84,0.06],[0.85,0.02],[0.86,0.05],[0.87,0.0],[0.88,0.04],[0.89,0.02],
  [0.906,-0.06],[0.92,0.01],[0.94,0.02],[0.96,0.03],[0.98,0.01],[1.0,-0.01],[1.02,0.02],[1.05,-0.03],[1.08,-0.02],[1.1,0.02],
  [1.12,-0.03],
  [0.065,0.2],[0.08,0.23],[0.105,0.18],[0.12,0.08],[0.125,0.16],[0.14,0.04],[0.145,0.21],[0.15,0.07],[0.16,0.15],[0.17,0.0],
  [0.18,0.06],[0.19,0.17],[0.2,-0.03],[0.205,0.07],[0.21,-0.08],[0.22,0.12],[0.23,0.03],[0.24,0.09],[0.245,-0.05],[0.25,0.14],
  [0.26,-0.02],[0.265,0.05],[0.27,0.11],[0.28,-0.06],[0.29,0.06],[0.295,-0.03],[0.31,0.1],[0.32,0.03],[0.33,-0.05],[0.345,0.05],
  [0.36,-0.03],[0.375,0.08],[0.385,0.02],[0.4,0.06],[0.415,-0.02],[0.43,0.05],[0.45,0.02],[0.47,0.07],[0.52,0.06],[0.55,0.0],
  [0.57,0.11],[0.6,0.05],[0.62,0.12],[0.65,0.02],[0.68,0.08],[0.7,0.11],[0.72,0.05],[0.75,0.1],[0.78,0.06],[0.8,0.08],
  [0.82,0.04],[0.85,0.06],[0.88,0.01],[0.9,0.05],[0.95,0.05],[1.05,0.01],[1.1,0.01],
];
const desert60: P[] = [
  [0.058,0.35],[0.065,0.42],[0.06,0.23],[0.07,0.21],[0.075,0.24],[0.08,0.2],[0.083,0.46],[0.09,0.38],[0.095,0.33],[0.1,0.43],
  [0.1,0.49],[0.105,0.4],[0.108,0.02],[0.11,0.02],[0.115,0.47],[0.12,0.5],[0.125,0.3],
  [0.13,0.16],[0.135,0.08],[0.14,0.2],[0.14,0.02],[0.145,0.12],[0.15,-0.02],[0.15,0.06],[0.155,0.17],[0.16,0.1],[0.16,-0.04],
  [0.165,0.03],[0.17,0.14],[0.17,-0.06],[0.175,0.07],[0.18,0.0],[0.18,0.2],[0.185,-0.08],[0.19,0.11],[0.19,0.04],[0.195,-0.03],
  [0.2,0.08],[0.2,0.16],[0.205,-0.06],[0.21,0.01],[0.21,0.12],[0.215,-0.09],[0.22,0.05],[0.22,-0.02],[0.225,0.09],[0.23,-0.07],
  [0.23,0.14],[0.235,0.02],[0.24,-0.1],[0.24,0.06],[0.245,-0.04],[0.25,0.1],[0.25,0.0],[0.255,-0.08],[0.26,0.04],[0.26,0.15],
  [0.265,-0.05],[0.27,0.08],[0.27,-0.11],[0.275,0.01],[0.28,-0.03],[0.28,0.12],[0.285,0.05],[0.29,-0.07],[0.29,0.18],[0.295,0.02],
  [0.3,-0.04],[0.3,0.09],[0.31,0.0],[0.31,-0.09],[0.315,0.05],[0.32,0.13],[0.32,-0.03],[0.33,0.07],[0.33,-0.07],[0.34,0.02],
  [0.34,0.1],[0.345,-0.11],[0.35,-0.13],[0.35,0.04],[0.36,-0.02],[0.36,0.08],[0.37,0.0],[0.37,-0.06],[0.38,0.05],[0.385,-0.03],
  [0.39,0.09],[0.4,0.01],[0.4,-0.08],[0.41,0.05],[0.42,-0.03],[0.43,0.03],[0.44,-0.06],[0.44,0.08],[0.45,-0.01],[0.46,0.04],
  [0.46,-0.09],[0.47,0.01],[0.48,0.06],[0.48,-0.04],
  [0.128,0.05],[0.133,0.19],[0.138,0.11],[0.143,-0.03],[0.148,0.15],[0.153,0.02],[0.158,0.13],[0.163,-0.07],[0.168,0.08],[0.173,0.01],
  [0.178,0.17],[0.183,-0.04],[0.188,0.09],[0.193,0.02],[0.198,-0.08],[0.203,0.12],[0.208,0.04],[0.213,-0.04],[0.218,0.1],[0.223,-0.08],
  [0.228,0.02],[0.233,0.08],[0.238,-0.05],[0.243,0.11],[0.248,-0.09],[0.253,0.03],[0.258,0.07],[0.263,-0.1],[0.268,0.01],[0.273,0.05],
  [0.278,-0.07],[0.283,0.09],[0.288,-0.02],[0.293,0.03],[0.298,-0.08],[0.303,0.06],[0.308,-0.05],[0.313,0.11],[0.318,0.02],[0.323,-0.09],
  [0.328,0.04],[0.333,-0.01],[0.338,0.08],[0.343,-0.05],[0.348,0.02],[0.353,0.09],[0.358,-0.08],[0.363,0.03],[0.368,-0.03],[0.373,0.06],
  [0.378,-0.09],[0.383,0.01],[0.393,0.04],[0.403,-0.05],[0.413,0.02],[0.423,0.07],[0.433,-0.04],[0.443,0.02],[0.453,0.06],[0.463,-0.02],
  [0.473,-0.07],
  [0.49,0.08],[0.5,0.02],[0.5,-0.06],[0.51,0.1],[0.52,0.164],[0.52,0.04],[0.53,-0.02],[0.54,0.07],[0.55,0.11],[0.55,-0.08],
  [0.56,0.03],[0.57,0.09],[0.57,-0.03],[0.58,0.05],[0.58,-0.1],[0.59,0.12],[0.6,0.02],[0.6,-0.05],[0.61,0.08],[0.61,-0.09],
  [0.62,-0.03],[0.62,0.04],[0.63,-0.11],[0.63,0.1],[0.64,0.0],[0.64,-0.07],[0.65,0.06],[0.65,-0.04],[0.66,0.03],[0.666,0.146],
  [0.67,0.08],[0.67,-0.02],[0.68,0.05],[0.69,0.1],[0.69,0.02],[0.7,0.07],[0.7,-0.01],[0.71,0.04],[0.71,0.11],[0.72,0.06],
  [0.72,0.01],[0.73,0.09],[0.73,0.03],[0.74,0.12],[0.74,0.06],[0.75,0.02],[0.75,0.08],[0.76,0.05],[0.76,-0.03],[0.77,0.1],
  [0.77,0.03],[0.78,0.07],[0.78,0.0],[0.79,0.05],[0.79,0.09],[0.8,0.02],[0.8,0.06],[0.81,0.08],[0.81,0.03],[0.82,0.05],
  [0.82,0.0],[0.83,0.07],[0.83,0.02],[0.84,0.04],[0.85,0.06],[0.85,0.0],[0.86,0.03],[0.87,0.01],[0.88,0.04],[0.89,0.0],
  [0.9,0.02],[0.91,-0.01],[0.92,0.01],[0.93,-0.03],[0.95,-0.03],[0.97,0.01],[0.98,-0.09],[0.99,0.02],[1.0,0.0],[1.03,0.0],
  [1.05,-0.03],[1.05,-0.04],[1.07,-0.01],[1.1,0.02],[1.11,0.01],[1.14,0.0],
  [0.495,0.04],[0.505,-0.02],[0.515,0.07],[0.535,0.1],[0.545,0.03],[0.565,0.07],[0.585,0.09],[0.595,0.04],[0.605,-0.08],[0.615,0.0],
  [0.625,-0.06],[0.635,0.06],[0.645,-0.1],[0.655,0.02],[0.675,0.06],[0.685,-0.01],[0.695,0.08],[0.705,0.04],[0.715,0.08],[0.725,0.03],
  [0.735,0.07],[0.745,0.1],[0.755,0.05],[0.765,0.09],[0.775,0.06],[0.785,0.03],[0.795,0.07],[0.805,0.04],[0.815,0.06],[0.825,0.03],
  [0.835,0.05],[0.845,0.02],[0.855,0.04],[0.865,0.01],[0.875,0.03],[0.885,0.0],[0.895,0.02],[0.94,0.0],[0.96,-0.02],[1.02,-0.01],
  [1.08,0.01],
];
const fitOcean60: P[] = [
  [-0.036,1.3],[-0.026,1.21],[-0.016,1.12],[-0.007,1.04],[0.002,0.97],[0.015,0.9],[0.027,0.84],[0.04,0.78],[0.051,0.72],[0.066,0.66],
  [0.083,0.597],[0.1,0.535],[0.12,0.47],[0.14,0.41],[0.16,0.36],[0.182,0.31],[0.215,0.26],[0.25,0.215],[0.287,0.18],[0.32,0.153],
  [0.36,0.127],[0.407,0.104],[0.44,0.088],[0.482,0.07],[0.54,0.054],[0.607,0.038],[0.7,0.024],[0.794,0.013],[0.9,0.006],[1.0,0.002],
  [1.15,-0.003],
];
const fitVege60: P[] = [
  [-0.008,1.3],[-0.004,1.2],[0.0,1.14],[0.005,1.04],[0.01,0.94],[0.014,0.84],[0.019,0.74],[0.024,0.64],[0.028,0.55],[0.033,0.48],
  [0.042,0.4],[0.052,0.335],[0.065,0.285],[0.077,0.247],[0.09,0.21],[0.107,0.17],[0.13,0.14],[0.158,0.11],[0.19,0.083],[0.22,0.062],
  [0.26,0.045],[0.31,0.03],[0.41,0.015],[0.5,0.008],[0.6,0.004],[0.8,0.0],[1.0,-0.002],[1.15,-0.003],
];
const fitDesert60: P[] = [
  [-0.011,1.3],[-0.006,1.2],[-0.002,1.1],[0.003,1.0],[0.008,0.9],[0.014,0.8],[0.021,0.71],[0.03,0.6],[0.04,0.5],[0.05,0.43],
  [0.058,0.384],[0.077,0.305],[0.09,0.26],[0.107,0.22],[0.13,0.175],[0.158,0.14],[0.19,0.105],[0.22,0.08],[0.26,0.058],[0.31,0.04],
  [0.41,0.02],[0.5,0.01],[0.6,0.005],[0.8,0.0],[1.0,-0.002],[1.15,-0.002],
];

// ---------- look ----------
const FONT = '"Liberation Sans", Arial, Helvetica, sans-serif';
const FS = 16.5;
const RED = '#ff0000';
const GREEN = '#00e600';
const BLUE = '#0000ff';

interface PanelCfg {
  title: string;
  top: number;
  height: number;
  plotTop: number;
  plotBottom: number;
  xMin: number; xMax: number; yMin: number; yMax: number;
  xTicks: number[]; xLabels: string[]; yTicks: number[]; yLabels: string[];
  ocean: P[]; vege: P[]; desert: P[];
  fitOcean: P[]; fitVege: P[]; fitDesert: P[];
}

const PLOT_LEFT = 88.7;
const PLOT_RIGHT = 731;

const panels: PanelCfg[] = [
  {
    title: titles[0], top: 0, height: 528, plotTop: 41.3, plotBottom: 469.3,
    xMin: -0.2, xMax: 1.2, yMin: -0.4, yMax: 1.6,
    xTicks: xTicks0, xLabels: xTickLabels0, yTicks: yTicks0, yLabels: yTickLabels0,
    ocean: ocean0, vege: vege0, desert: desert0, fitOcean: fitOcean0, fitVege: fitVege0, fitDesert: fitDesert0,
  },
  {
    title: titles[1], top: 528, height: 530, plotTop: 44.7, plotBottom: 473.3,
    xMin: -0.05, xMax: 1.15, yMin: -0.3, yMax: 1.3,
    xTicks: xTicks12, xLabels: xTickLabels12, yTicks: yTicks12, yLabels: yTickLabels12,
    ocean: ocean30, vege: vege30, desert: desert30, fitOcean: fitOcean30, fitVege: fitVege30, fitDesert: fitDesert30,
  },
  {
    title: titles[2], top: 1058, height: 528, plotTop: 46.7, plotBottom: 475.3,
    xMin: -0.05, xMax: 1.15, yMin: -0.3, yMax: 1.3,
    xTicks: xTicks12, xLabels: xTickLabels12, yTicks: yTicks12, yLabels: yTickLabels12,
    ocean: ocean60, vege: vege60, desert: desert60, fitOcean: fitOcean60, fitVege: fitVege60, fitDesert: fitDesert60,
  },
];

const toXY = (a: P[]) => a.map(([x, y]) => ({ x, y }));

function makeDecor(cfg: PanelCfg) {
  return {
    id: 'decor',
    afterDatasetsDraw(chart: any) {
      const { ctx, chartArea } = chart;
      const { left, right, top, bottom } = chartArea;
      const xs = chart.scales.x;
      const ys = chart.scales.y;
      ctx.save();
      ctx.strokeStyle = '#000';
      ctx.lineWidth = 1.2;
      ctx.strokeRect(left, top, right - left, bottom - top);
      const tl = 6.5;
      ctx.lineWidth = 1;
      ctx.beginPath();
      cfg.xTicks.forEach((v) => {
        const px = xs.getPixelForValue(v);
        if (px <= left + 0.5 || px >= right - 0.5) return;
        ctx.moveTo(px, bottom); ctx.lineTo(px, bottom - tl);
        ctx.moveTo(px, top); ctx.lineTo(px, top + tl);
      });
      cfg.yTicks.forEach((v) => {
        const py = ys.getPixelForValue(v);
        if (py <= top + 0.5 || py >= bottom - 0.5) return;
        ctx.moveTo(left, py); ctx.lineTo(left + tl, py);
        ctx.moveTo(right, py); ctx.lineTo(right - tl, py);
      });
      ctx.stroke();

      ctx.fillStyle = '#000';
      const mainFont = `${FS}px ${FONT}`;
      const supFont = `11px ${FONT}`;
      ctx.font = mainFont;
      const wMain = ctx.measureText(cfg.title).width;
      ctx.font = supFont;
      const wSup = ctx.measureText(titleSup).width;
      const cx = (left + right) / 2;
      const tx = cx - (wMain + wSup) / 2;
      const tb = top - 17.3;
      ctx.textAlign = 'left';
      ctx.textBaseline = 'alphabetic';
      ctx.font = mainFont;
      ctx.fillText(cfg.title, tx, tb);
      ctx.font = supFont;
      ctx.fillText(titleSup, tx + wMain + 0.5, tb - 8);

      ctx.font = mainFont;
      ctx.textAlign = 'center';
      ctx.fillText(xTitle, cx, bottom + 47.2);
      ctx.save();
      ctx.translate(26, (top + bottom) / 2);
      ctx.rotate(-Math.PI / 2);
      ctx.textAlign = 'center';
      ctx.fillText(yTitle, 0, 0);
      ctx.restore();

      const colors = [RED, GREEN, BLUE, RED, GREEN, BLUE];
      ctx.textAlign = 'right';
      legendLabels.forEach((lab, i) => {
        const yb = top + 20.7 + i * 16.8;
        ctx.fillStyle = '#000';
        ctx.font = mainFont;
        ctx.fillText(lab, 652.3, yb);
        const my = yb - 6;
        ctx.strokeStyle = colors[i];
        if (i < 3) {
          const mx = 686.7;
          const r = 1.8;
          ctx.lineWidth = 1;
          ctx.beginPath();
          if (i === 0 || i === 2) {
            ctx.moveTo(mx - r, my); ctx.lineTo(mx + r, my);
            ctx.moveTo(mx, my - r); ctx.lineTo(mx, my + r);
          }
          if (i === 1 || i === 2) {
            ctx.moveTo(mx - r, my - r); ctx.lineTo(mx + r, my + r);
            ctx.moveTo(mx - r, my + r); ctx.lineTo(mx + r, my - r);
          }
          ctx.stroke();
        } else {
          ctx.lineWidth = 1.5;
          ctx.setLineDash(i === 3 ? [] : i === 4 ? [4, 2] : [2, 3]);
          ctx.beginPath();
          ctx.moveTo(664, my);
          ctx.lineTo(i === 5 ? 708 : 710.7, my);
          ctx.stroke();
          ctx.setLineDash([]);
        }
      });
      ctx.restore();
    },
  };
}

function buildConfig(cfg: PanelCfg): any {
  const pts = (data: P[], color: string, style: string, r: number, bw: number, order: number, label: string) => ({
    label,
    data: toXY(data),
    showLine: false,
    pointStyle: style,
    pointRadius: r,
    pointBorderWidth: bw,
    borderColor: color,
    backgroundColor: color,
    pointBorderColor: color,
    pointBackgroundColor: color,
    order,
  });
  const fit = (data: P[], color: string, dash: number[], order: number, label: string) => ({
    label,
    data: toXY(data),
    showLine: true,
    pointRadius: 0,
    borderColor: color,
    backgroundColor: color,
    borderWidth: 1.5,
    borderDash: dash,
    cubicInterpolationMode: 'monotone',
    fill: false,
    order,
  });
  return {
    type: 'scatter',
    data: {
      datasets: [
        fit(cfg.fitDesert, BLUE, [2, 3], 1, 'fit DESERT'),
        fit(cfg.fitVege, GREEN, [4, 2], 2, 'fit VEGE'),
        fit(cfg.fitOcean, RED, [], 3, 'fit OCEAN'),
        pts(cfg.desert, BLUE, 'star', 3.6, 1.7, 4, 'DESERT'),
        pts(cfg.vege, GREEN, 'crossRot', 3.8, 1.1, 5, 'VEGE'),
        pts(cfg.ocean, RED, 'cross', 2.8, 1.1, 6, 'OCEAN'),
      ],
    },
    options: {
      responsive: false,
      maintainAspectRatio: false,
      animation: false,
      devicePixelRatio: 1,
      events: [],
      layout: { padding: { left: 0, right: 748 - PLOT_RIGHT, top: cfg.plotTop, bottom: 0 } },
      plugins: {
        legend: { display: false },
        title: { display: false },
        tooltip: { enabled: false },
      },
      scales: {
        x: {
          type: 'linear',
          position: 'bottom',
          min: cfg.xMin,
          max: cfg.xMax,
          grid: { display: false, drawTicks: false },
          border: { display: false },
          afterBuildTicks: (s: any) => { s.ticks = cfg.xTicks.map((v) => ({ value: v })); },
          afterFit: (s: any) => { s.height = cfg.height - cfg.plotBottom; },
          ticks: {
            autoSkip: false,
            maxRotation: 0,
            padding: 7,
            color: '#000',
            font: { family: FONT, size: FS },
            callback: (v: number) => cfg.xLabels[cfg.xTicks.indexOf(v)] ?? '',
          },
        },
        y: {
          type: 'linear',
          position: 'left',
          min: cfg.yMin,
          max: cfg.yMax,
          grid: { display: false, drawTicks: false },
          border: { display: false },
          afterBuildTicks: (s: any) => { s.ticks = cfg.yTicks.map((v) => ({ value: v })); },
          afterFit: (s: any) => { s.width = PLOT_LEFT; },
          ticks: {
            autoSkip: false,
            padding: 10,
            color: '#000',
            font: { family: FONT, size: FS },
            callback: (v: number) => cfg.yLabels[cfg.yTicks.indexOf(v)] ?? '',
          },
        },
      },
    },
    plugins: [makeDecor(cfg)],
  };
}

function Panel({ cfg }: { cfg: PanelCfg }) {
  const ref = useRef<HTMLCanvasElement>(null);
  useEffect(() => {
    if (!ref.current) return;
    const chart = new Chart(ref.current, buildConfig(cfg));
    return () => chart.destroy();
  }, [cfg]);
  return (
    <canvas
      ref={ref}
      width={748}
      height={cfg.height}
      style={{ position: 'absolute', left: 0, top: cfg.top, width: 748, height: cfg.height, display: 'block' }}
    />
  );
}

export default function App() {
  return (
    <div style={{ position: 'absolute', left: 0, top: 0, width: 748, height: 1586, background: '#fff' }}>
      {panels.map((p, i) => (
        <Panel key={i} cfg={p} />
      ))}
    </div>
  );
}
